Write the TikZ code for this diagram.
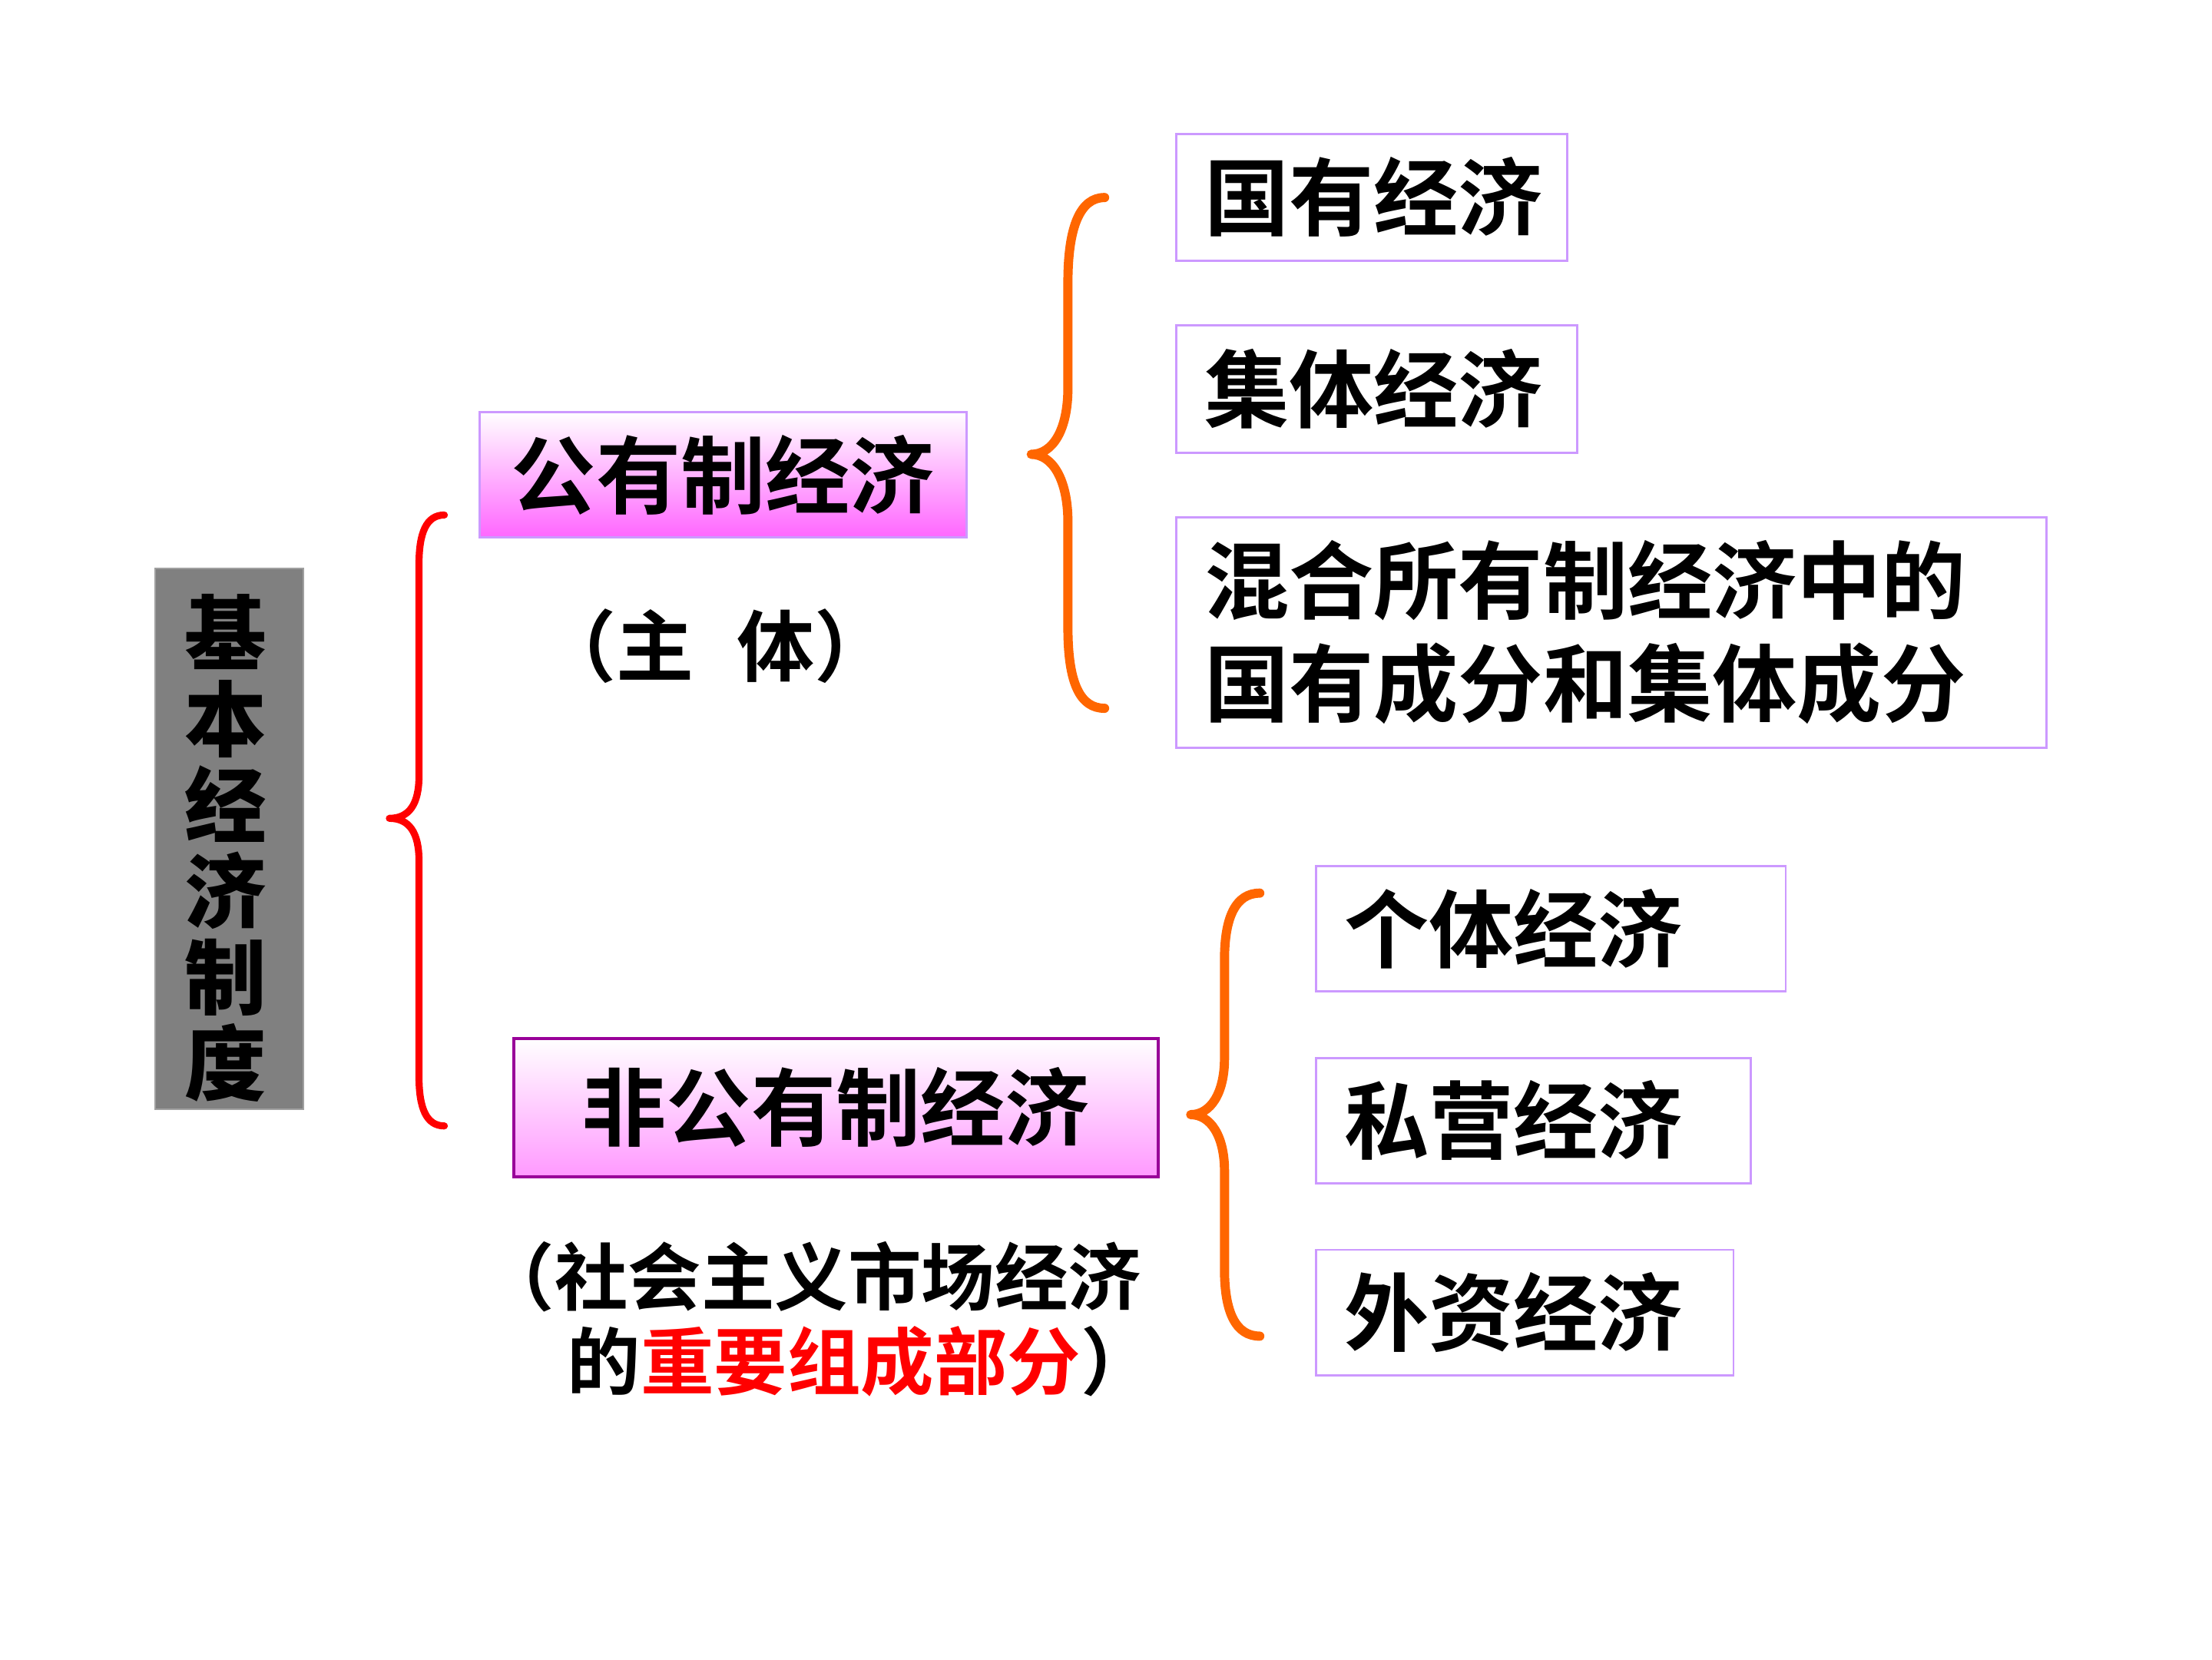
\documentclass[tikz,border=0pt]{standalone}
\usepackage{fontspec}
\newfontfamily\cjk{Noto Sans CJK SC Bold}
\newfontfamily\cjkb{Noto Sans CJK SC Black}
\definecolor{boxline}{HTML}{CC99FF}
\definecolor{pinkA}{HTML}{FF66FF}
\definecolor{pinkB}{HTML}{FF99FF}
\definecolor{purpleline}{HTML}{990099}
\definecolor{bracered}{HTML}{FF0000}
\definecolor{braceorange}{HTML}{FF6600}
\definecolor{grayfill}{HTML}{808080}
\definecolor{grayline}{HTML}{A0A0A0}
\begin{document}
\begin{tikzpicture}[x=1pt,y=-1pt,
  wbox/.style={draw=boxline, line width=1.6pt, fill=white, anchor=north west,
    inner xsep=20pt, inner ysep=0pt, align=left,
    font=\cjk\fontsize{60pt}{73pt}\selectfont},
  pbox/.style={line width=1.6pt, inner sep=0pt, align=center,
    font=\cjk\fontsize{60pt}{72pt}\selectfont},
  note/.style={inner sep=0pt, anchor=west, font=\cjk\fontsize{52pt}{60pt}\selectfont},
  brace/.style={line width=6.5pt, line cap=round, line join=round}
]
\useasboundingbox (0,0) rectangle (1568,1176);
\fill[white] (0,0) rectangle (1568,1176);

% title box
\node[draw=grayline, line width=1pt, fill=grayfill, minimum width=105pt, minimum height=383pt,
  inner sep=0pt] (jb) at (162.5,594.5) {};
\node[inner sep=0pt, align=center, font=\cjkb\fontsize{58pt}{61pt}\selectfont] (jbt)
  at (160,601) {基\\本\\经\\济\\制\\度};

% red brace
\draw[brace, draw=bracered, line width=5pt]
  (315,365) .. controls (302,365) and (297,378) .. (297,400) -- (297,550)
  .. controls (297,570) and (290,580) .. (276,580)
  .. controls (290,580) and (297,590) .. (297,610) -- (297,763)
  .. controls (297,785) and (302,798) .. (315,798);

% public ownership
\node[pbox, draw=boxline, top color=white, bottom color=pinkA,
  minimum width=345pt, minimum height=89pt] (gy) at (512.5,336.5) {公有制经济};
\node[inner sep=0pt, font=\cjk\fontsize{55pt}{60pt}\selectfont] (zt) at (507,458) {（主\hspace{0.55em}体）};

% non-public
\node[pbox, draw=purpleline, line width=2.2pt, top color=white, bottom color=pinkB,
  minimum width=457pt, minimum height=98pt] (fgy) at (592.5,785) {非公有制经济};
\node[note] (n1) at (341,905) {（社会主义市场经济};
\node[note] (n2) at (402,965) {的\textcolor{bracered}{重要组成部分}）};

% orange brace 1
\draw[brace, draw=braceorange]
  (783,140) .. controls (766,140) and (757,160) .. (757,200) -- (757,275)
  .. controls (757,305) and (746,322) .. (731,322)
  .. controls (746,322) and (757,340) .. (757,370) -- (757,445)
  .. controls (757,485) and (766,502) .. (783,502);

% orange brace 2
\draw[brace, draw=braceorange]
  (893,633) .. controls (876,633) and (868,650) .. (868,680) -- (868,750)
  .. controls (868,775) and (858,790) .. (844,790)
  .. controls (858,790) and (868,805) .. (868,830) -- (868,900)
  .. controls (868,930) and (876,947) .. (893,947);

% public sub-boxes
\node[wbox, text width=237pt, minimum height=90pt] (g1) at (833,94) {国有经济};
\node[wbox, text width=244pt, minimum height=90pt] (g2) at (833,230) {集体经济};
\node[wbox, text width=577pt, minimum height=163pt] (g3) at (833,366)
  {混合所有制经济中的\\国有成分和集体成分};

% non-public sub-boxes
\node[wbox, text width=293pt, minimum height=89pt] (f1) at (932,613) {个体经济};
\node[wbox, text width=268pt, minimum height=89pt] (f2) at (932,749) {私营经济};
\node[wbox, text width=256pt, minimum height=89pt] (f3) at (932,885) {外资经济};
\end{tikzpicture}
\end{document}
